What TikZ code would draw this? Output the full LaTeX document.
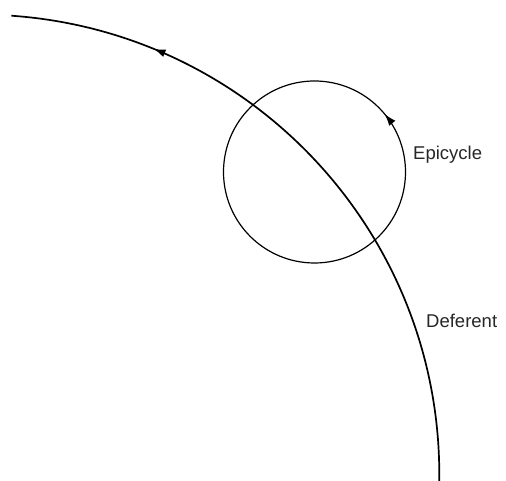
\documentclass[tikz,border=0pt]{standalone}
\usepackage{fontspec}
\setmainfont{Liberation Sans}
\usetikzlibrary{arrows.meta, decorations.markings, calc}

\begin{document}
\begin{tikzpicture}[
  x=1pt, y=1pt,
  orbit/.style={draw=black, line width=#1},
  flow/.style={postaction={decorate}, decoration={markings,
    mark=at position #1 with {\arrow{Latex[length=12pt, width=8pt]}}}},
  lbl/.style={font=\fontsize{18.5}{21}\selectfont, text=black!85,
    anchor=base west, inner sep=0pt},
]

% Frame
\useasboundingbox (0,0) rectangle (506,481);

% =============================================
% Deferent (large arc)
% =============================================
\coordinate (dcen) at (-20.7,6.4);
\draw[orbit=1.7pt, flow=0.79] ($(dcen)+(-0.9:460)$)
  arc[start angle=-0.9, end angle=86, radius=460];

% =============================================
% Epicycle (small circle)
% =============================================
\coordinate (ecen) at (314.5,309);
\draw[orbit=1.2pt, flow=0.11] ($(ecen)+(0:91)$)
  arc[start angle=0, end angle=360, radius=91];

% Labels
\node[lbl] (epi) at (413,321) {Epicycle};
\node[lbl] (def) at (426,153) {Deferent};

\end{tikzpicture}
\end{document}
